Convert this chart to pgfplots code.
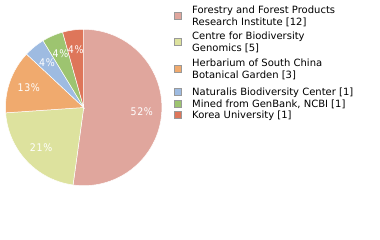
\documentclass[border=0pt]{standalone}
\usepackage{pgfplots}
\pgfplotsset{compat=1.18}
\usepackage{fontspec}
\setmainfont{DejaVu Sans}
\newfontfamily\lblfont[LetterSpace=6]{DejaVu Sans Condensed}
\definecolor{c1}{RGB}{224,166,157}
\definecolor{c2}{RGB}{221,226,158}
\definecolor{c3}{RGB}{240,170,110}
\definecolor{c4}{RGB}{158,187,225}
\definecolor{c5}{RGB}{157,196,112}
\definecolor{c6}{RGB}{222,118,90}
% cumulative-before, count, colour, label ; total = 23
\newcommand{\slice}[4]{%
  \pgfmathsetmacro\sa{90-360*(#1+#2)/23}%
  \pgfmathsetmacro\sb{90-360*(#1)/23}%
  \addplot[fill=#3, draw=white, line width=0.5bp, domain=\sa:\sb, samples=80]
    ({cos(x)},{sin(x)}) -- (axis cs:0,0) -- cycle;
  \node[text=white, font=\lblfont\fontsize{10.5bp}{11bp}\selectfont, inner sep=0]
    at (axis cs:{0.745*cos(90-360*(#1+#2/2)/23)},{0.745*sin(90-360*(#1+#2/2)/23)}) {#4};
}
\begin{document}
\begin{tikzpicture}
\useasboundingbox (0,0) rectangle (380bp,240bp);
\begin{axis}[at={(83.7bp,132.5bp)}, anchor=center, scale only axis,
  width=156.4bp, height=156.4bp, xmin=-1, xmax=1, ymin=-1, ymax=1,
  hide axis, clip=false]
\slice{0}{12}{c1}{52\%}
\slice{12}{5}{c2}{21\%}
\slice{17}{3}{c3}{13\%}
\slice{20}{1}{c4}{4\%}
\slice{21}{1}{c5}{4\%}
\slice{22}{1}{c6}{4\%}
\end{axis}
\begin{scope}[every node/.style={anchor=base west, inner sep=0, font=\fontsize{10bp}{12bp}\selectfont}]
\filldraw[fill=c1, draw=black!40, line width=0.4bp] (174.3bp,227.6bp) rectangle ++(7bp,-7bp);
\filldraw[fill=c2, draw=black!40, line width=0.4bp] (174.3bp,201.4bp) rectangle ++(7bp,-7bp);
\filldraw[fill=c3, draw=black!40, line width=0.4bp] (174.3bp,175.2bp) rectangle ++(7bp,-7bp);
\filldraw[fill=c4, draw=black!40, line width=0.4bp] (174.3bp,151.3bp) rectangle ++(7bp,-7bp);
\filldraw[fill=c5, draw=black!40, line width=0.4bp] (174.3bp,140.1bp) rectangle ++(7bp,-7bp);
\filldraw[fill=c6, draw=black!40, line width=0.4bp] (174.3bp,128.5bp) rectangle ++(7bp,-7bp);
\node at (192bp,226.2bp) {Forestry and Forest Products};
\node at (192bp,214.2bp) {Research Institute [12]};
\node at (192bp,200.0bp) {Centre for Biodiversity};
\node at (192bp,188.0bp) {Genomics [5]};
\node at (192bp,173.8bp) {Herbarium of South China};
\node at (192bp,161.8bp) {Botanical Garden [3]};
\node at (192bp,144.2bp) {Naturalis Biodiversity Center [1]};
\node at (192bp,132.9bp) {Mined from GenBank, NCBI [1]};
\node at (192bp,121.4bp) {Korea University [1]};
\end{scope}
\end{tikzpicture}
\end{document}
